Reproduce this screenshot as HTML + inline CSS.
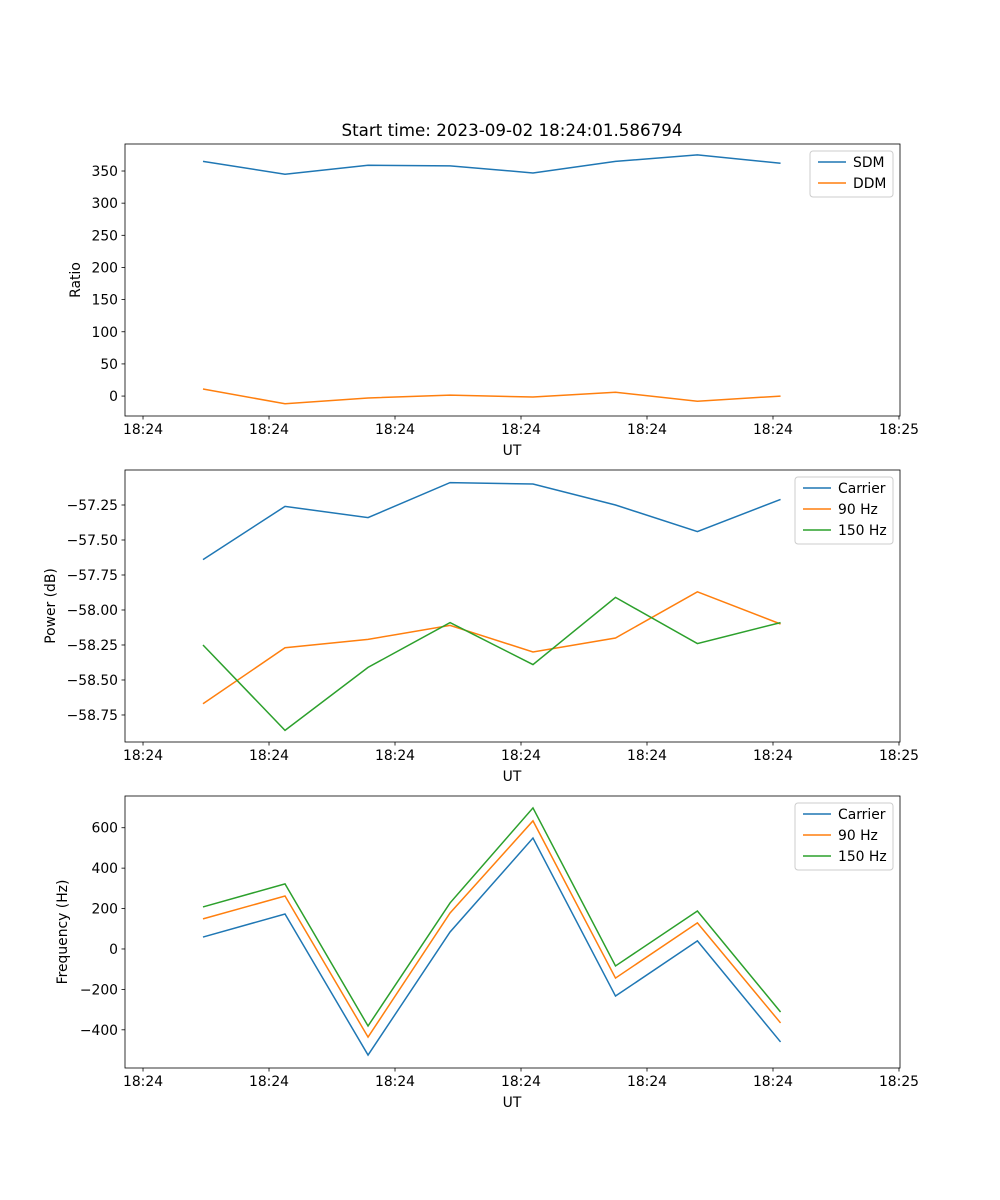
<!DOCTYPE html>
<html><head><meta charset="utf-8"><style>
body{margin:0;background:#fff}
svg{display:block}
text{font-family:"DejaVu Sans","Liberation Sans",sans-serif;font-size:13.9px;fill:#000}
</style></head><body>
<svg id="fig" width="1000" height="1200" viewBox="0 0 1000 1200" xmlns="http://www.w3.org/2000/svg">
<rect width="1000" height="1200" fill="#fff"/>
<text x="512" y="136" text-anchor="middle" font-size="16.7px" style="font-size:16.7px">Start time: 2023-09-02 18:24:01.586794</text>
</svg>
<script>
const xTimes=[4.76,11.27,17.86,24.37,30.95,37.5,44.0,50.6];
const xTickVals=[0,10,20,30,40,50,60];
const xTickLabels=["18:24","18:24","18:24","18:24","18:24","18:24","18:25"];
const sdm=[365,345,359,358,347,365,375,362];
const ddm=[11,-12,-3,1.5,-1.5,6,-8,0];
const ratioTicks=[0,50,100,150,200,250,300,350];
const powCarrier=[-57.64,-57.26,-57.34,-57.09,-57.10,-57.25,-57.44,-57.21];
const pow90=[-58.67,-58.27,-58.21,-58.11,-58.30,-58.20,-57.87,-58.10];
const pow150=[-58.25,-58.86,-58.41,-58.09,-58.39,-57.91,-58.24,-58.09];
const powTicks=[-58.75,-58.5,-58.25,-58.0,-57.75,-57.5,-57.25];
const powTickLabels=["\u221258.75","\u221258.50","\u221258.25","\u221258.00","\u221257.75","\u221257.50","\u221257.25"];
const freqCarrier=[59,173,-525,84,549,-233,40,-460];
const freq90=[149,262,-436,178,634,-144,129,-366];
const freq150=[208,322,-381,228,698,-84,188,-312];
const freqTicks=[-400,-200,0,200,400,600];
const NS="http://www.w3.org/2000/svg";
const svg=document.getElementById('fig');
const C=["#1f77b4","#ff7f0e","#2ca02c"];
function mk(t,a,p){const e=document.createElementNS(NS,t);for(const k in a)e.setAttribute(k,a[k]);(p||svg).appendChild(e);return e;}
const L=125,R=900,xMin=-1.43,xMax=60.08;
function xs(v){return L+(v-xMin)/(xMax-xMin)*(R-L);}
function panel(name,top,bot,yMin,yMax,yT,yTL,series,names,ylabel,legend){
  const g=mk('g',{});
  
  
  const ys=v=>bot-(v-yMin)/(yMax-yMin)*(bot-top);
  series.forEach((s,i)=>{
    const p=mk('polyline',{points:s.map((v,j)=>xs(xTimes[j])+','+ys(v)).join(' '),fill:'none',stroke:C[i],'stroke-width':1.5},g);
    
    
  });
  const f=mk('rect',{x:L,y:top,width:R-L,height:bot-top,fill:'none',stroke:'#000','stroke-width':0.8},g);
  
  
  xTickVals.forEach((v,i)=>{
    const x=xs(v);
    mk('line',{x1:x,x2:x,y1:bot,y2:bot+3.5,stroke:'#000','stroke-width':0.8},g);
    const t=mk('text',{x:x,y:bot+18,'text-anchor':'middle'},g);t.textContent=xTickLabels[i];
    
    
  });
  yT.forEach((v,i)=>{
    const y=ys(v);
    mk('line',{x1:L-3.5,x2:L,y1:y,y2:y,stroke:'#000','stroke-width':0.8},g);
    const t=mk('text',{x:L-7,y:y+5,'text-anchor':'end'},g);t.textContent=yTL?yTL[i]:String(v).replace('-','\u2212');
    
    
  });
  const xl=mk('text',{x:512,y:bot+39,'text-anchor':'middle'},g);xl.textContent='UT';
  
  
  const yl=mk('text',{x:0,y:0,'text-anchor':'middle',transform:`translate(${legend.yx},${(top+bot)/2}) rotate(-90)`},g);yl.textContent=ylabel;
  
  
  const lg=mk('g',{},g);
  
  
  const h=4+names.length*21;
  mk('rect',{x:legend.x,y:top+7,width:893-legend.x,height:h,rx:3,fill:'#fff',stroke:'#ccc','stroke-width':1},lg);
  names.forEach((n,i)=>{
    const y=top+18+i*21;
    mk('line',{x1:legend.x+8,x2:legend.x+36,y1:y,y2:y,stroke:C[i],'stroke-width':1.5},lg);
    const t=mk('text',{x:legend.x+43,y:y+5},lg);t.textContent=n;
    
    
  });
}
panel('ratio',144,416,-31,392,ratioTicks,null,[sdm,ddm],['SDM','DDM'],'Ratio',{x:810,yx:80});
panel('power',470,742,-58.943,-57.0,powTicks,powTickLabels,[powCarrier,pow90,pow150],['Carrier','90 Hz','150 Hz'],'Power (dB)',{x:795,yx:55});
panel('frequency',796,1068,-589,757,freqTicks,null,[freqCarrier,freq90,freq150],['Carrier','90 Hz','150 Hz'],'Frequency (Hz)',{x:795,yx:67});
</script>
</body></html>
